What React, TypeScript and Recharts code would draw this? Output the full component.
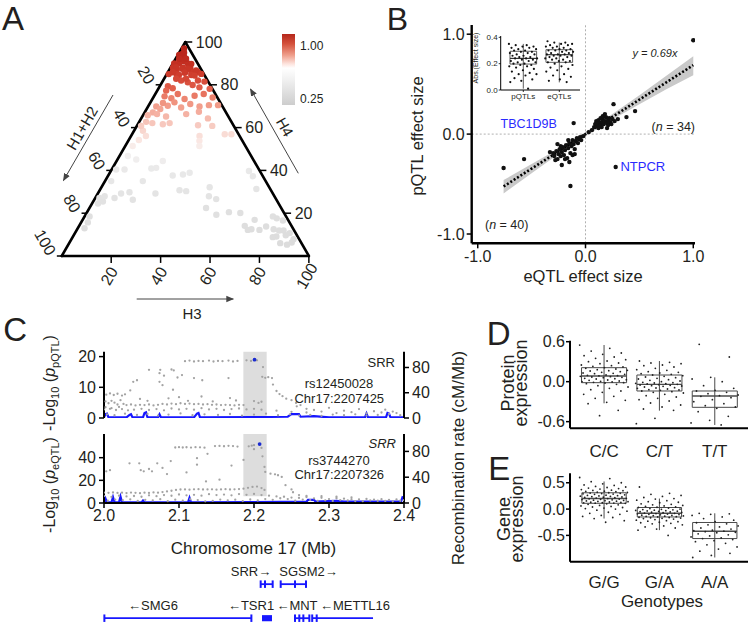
import React from 'react';
import { ComposedChart, Scatter, Line, Area, XAxis, YAxis, ReferenceLine, ReferenceArea } from 'recharts';

const FONT = 'Arial, "Liberation Sans", Helvetica, sans-serif';
const INK = '#231f20';
const BLUE = '#1717ff';
const LABEL_BLUE = '#2a2aff';

/* ================= A : ternary plot ================= */
// [H3 %, H4 %]  (H1+H2 = 100 - H3 - H4)
const ternaryPoints: [number, number][] = [
  [1, 97], [2, 95], [0.5, 94], [3, 93], [1.5, 92], [4, 91], [2.5, 90], [6, 90], [0.5, 90], [5, 88], [8, 88], [1, 88],
  [3, 87], [9.5, 86], [7, 86], [12, 86], [0.8, 85], [4, 85], [1.7, 94.5], [1.5, 92.2], [4.2, 92.2], [7.5, 89.8],
  [2.2, 88.2], [5, 87.5], [7.3, 87.5], [11, 86.7], [2, 85.9], [5.1, 84.6], [6.9, 85.6], [10.1, 84.6], [13.9, 85.1],
  [7.3, 82], [10.4, 81.2], [13, 79.9], [3.3, 79.3], [5.7, 78.4], [14.1, 82], [17, 81.5], [16.3, 78.8], [20.8, 78.1],
  [11.6, 84.3], [8.9, 82.8], [4.9, 82.8],
  [4.3, 74.6], [7.5, 73.7], [9.1, 75.7], [13, 73.4], [16.3, 74.9], [19.6, 75.7], [24, 74.1], [7.8, 70.2], [9.7, 71.8],
  [13.6, 69.4], [20.8, 69.9], [24.3, 70.5], [28, 70.5], [3.3, 69.9], [5.5, 68.7], [5.2, 71.5], [3.3, 67.1], [16.5, 71],
  [3.6, 77.3],
  [1.9, 65.8], [5.4, 66.3], [9.6, 65.2], [17.2, 66.3], [21.8, 67.4], [27, 64.3], [2.8, 62.7], [5.6, 62.1], [10.1, 61.6],
  [12.6, 62.1], [24.6, 61.1], [30.5, 60.8], [37.5, 56.9], [40.2, 56.9], [3.6, 58.5], [6, 56.1], [4.1, 54.2], [27.7, 56.1],
  [28.8, 53.8], [1.7, 60.8],
  [3.4, 46.7], [1.8, 40.4], [17.6, 41.2], [18.7, 44.4], [30, 38.1], [32.3, 38.9], [15.3, 35], [26.1, 37.6], [32.3, 30.7],
  [43.8, 32.1], [49.2, 26.6], [9.4, 29.2], [12.5, 29.8], [15.6, 26.3], [23.3, 29.2], [1.7, 27.1], [3.9, 25.5], [2.4, 24.5],
  [2.7, 13], [47.2, 22.4], [52.9, 19.3], [57.4, 20.5], [62.2, 20.1], [67, 14.1], [70.5, 12.5], [69.6, 16.9], [63.1, 31.3],
  [55.9, 39.7], [58.7, 37.3], [76.2, 18.5], [78.2, 17.6], [81.2, 16.6], [79.5, 12.5], [82, 11.9], [83.8, 11.9], [85.8, 9.7],
  [85.4, 6], [88.5, 5.3], [89.9, 6.3], [89.9, 7.8], [75.8, 13.8], [73.9, 12.2], [69.2, 12.2], [82.3, 9.1], [81, 8.8],
  [86.9, 10.7], [45.6, 27.9], [15.8, 40.9], [7.6, 45.1], [3, 51.4], [5.2, 40.4], [2.5, 35], [3.4, 27.9], [7.8, 27.1],
  [2, 18.5], [2.7, 15.7], [35.2, 30.3], [30, 51.4],
];
const ternaryTicks = [20, 40, 60, 80, 100];
const colorbarLabels = ['1.00', '0.25'];

/* ================= B : effect sizes ================= */
// [eQTL effect, pQTL effect]
const effectPairs: [number, number][] = [
  [1.0, 0.94], [-0.76, -0.34], [-0.57, -0.25], [-0.14, -0.52], [-0.11, 0.11], [0.26, 0.3], [0.28, -0.33], [0.46, 0.23],
  [0.38, 0.17], [0.3, 0.15],
  [0.09, 0.1], [0.1, 0.13], [0.11, 0.08], [0.12, 0.14], [0.13, 0.11], [0.14, 0.09], [0.15, 0.12], [0.16, 0.15], [0.17, 0.1],
  [0.18, 0.13], [0.19, 0.17], [0.2, 0.11], [0.21, 0.14], [0.22, 0.16], [0.23, 0.12], [0.24, 0.1], [0.25, 0.15], [0.18, 0.2],
  [0.12, 0.06], [0.08, 0.07], [0.15, 0.07], [0.21, 0.09], [0.27, 0.13], [0.14, 0.16], [0.06, 0.04], [0.03, 0.02],
  [0.16, 0.18], [0.1, 0.11], [0.2, 0.06],
  [-0.3, -0.19], [-0.29, -0.22], [-0.27, -0.17], [-0.26, -0.25], [-0.25, -0.2], [-0.24, -0.15], [-0.23, -0.22],
  [-0.22, -0.18], [-0.21, -0.13], [-0.2, -0.21], [-0.19, -0.16], [-0.18, -0.11], [-0.17, -0.24], [-0.16, -0.14],
  [-0.15, -0.09], [-0.14, -0.19], [-0.13, -0.12], [-0.12, -0.06], [-0.11, -0.1], [-0.1, -0.15], [-0.09, -0.07],
  [-0.08, -0.04], [-0.07, -0.09], [-0.06, -0.05], [-0.05, -0.03], [-0.22, -0.31], [-0.28, -0.26], [-0.19, -0.25],
  [-0.12, -0.21], [-0.33, -0.18], [-0.04, -0.06], [-0.02, -0.02], [-0.16, -0.06], [-0.23, -0.12], [-0.1, -0.2],
  [-0.26, -0.1], [-0.15, -0.28],
];
const fitX = [-0.76, -0.5, -0.25, 0, 0.25, 0.5, 0.75, 1.0];
const fitY = [-0.524, -0.345, -0.173, 0, 0.173, 0.345, 0.518, 0.69];
const fitLow = [-0.594, -0.392, -0.2, -0.022, 0.145, 0.3, 0.45, 0.59];
const fitHigh = [-0.46, -0.3, -0.146, 0.022, 0.2, 0.39, 0.585, 0.78];
const effectTicks = [-1, 0, 1];

const insetGroups = ['pQTLs', 'eQTLs'];
const insetPqtl = [0.35, 0.34, 0.34, 0.33, 0.33, 0.32, 0.32, 0.31, 0.31, 0.3, 0.3, 0.29, 0.29, 0.28, 0.28, 0.27, 0.27,
  0.26, 0.26, 0.25, 0.25, 0.24, 0.24, 0.24, 0.23, 0.23, 0.22, 0.22, 0.21, 0.21, 0.2, 0.2, 0.19, 0.19, 0.18, 0.18, 0.17,
  0.16, 0.15, 0.14, 0.13, 0.12, 0.12, 0.11, 0.09, 0.08, 0.07, 0.06, 0.01];
const insetEqtl = [0.37, 0.36, 0.36, 0.35, 0.35, 0.34, 0.34, 0.33, 0.33, 0.32, 0.32, 0.31, 0.31, 0.3, 0.3, 0.3, 0.29,
  0.29, 0.28, 0.28, 0.27, 0.27, 0.27, 0.26, 0.26, 0.26, 0.25, 0.25, 0.24, 0.24, 0.23, 0.23, 0.22, 0.22, 0.21, 0.21, 0.2,
  0.19, 0.18, 0.17, 0.16, 0.15, 0.14, 0.12, 0.11, 0.1, 0.08, 0.07, 0.06];
// [low whisker, Q1, median, Q3, high whisker]
const insetBox = [[0.01, 0.197, 0.24, 0.294, 0.35], [0.058, 0.21, 0.268, 0.306, 0.36]];
const insetTicks = [0, 0.2, 0.4];

/* ================= C : regional association ================= */
// [position (Mb), -log10 p]
const pqtlPoints: [number, number][] = [
  [2.108, 18.5], [2.114, 18.7], [2.12, 18.4], [2.126, 18.6], [2.132, 18.5], [2.14, 18.7], [2.146, 18.4], [2.152, 18.6],
  [2.158, 18.5], [2.166, 18.7], [2.172, 18.4], [2.178, 18.6], [2.19, 18.8], [2.196, 18.6],
  [2.06, 15.7], [2.075, 15.7], [2.09, 15.8], [2.093, 15.5], [2.074, 14.6], [2.08, 13.8], [2.098, 13.2], [2.104, 14.0],
  [2.12, 13.0], [2.039, 11.8], [2.044, 12.3], [2.074, 11.8], [2.078, 10.7], [2.131, 12.3], [2.166, 13.0], [2.212, 16.6],
  [2.204, 18.8],
  [2.211, 13.4], [2.215, 13.1], [2.219, 13.3], [2.224, 13.0], [2.2253, 10.9], [2.23, 8.8], [2.234, 7.8], [2.238, 7.1],
  [2.243, 6.3], [2.25, 5.8], [2.256, 4.9], [2.262, 4.2],
  [2.003, 7.6], [2.008, 8.0], [2.013, 7.5], [2.018, 7.9], [2.024, 7.3], [2.028, 7.7], [2.035, 9.0], [2.048, 6.2],
  [2.058, 5.6], [2.086, 6.4], [2.092, 9.2], [2.1, 6.8], [2.112, 5.6], [2.13, 7.0], [2.145, 5.4], [2.168, 6.5],
  [2.176, 5.7], [2.2, 5.5], [2.206, 4.9], [2.21, 5.3],
  [2.03, 4.2], [2.036, 4.4], [2.042, 4.1], [2.048, 4.3], [2.054, 4.2], [2.06, 4.4], [2.066, 4.1], [2.072, 4.3],
  [2.078, 4.6], [2.084, 4.4], [2.09, 4.7], [2.096, 4.5], [2.102, 4.8], [2.108, 4.6], [2.114, 4.7], [2.12, 4.5],
  [2.126, 4.6], [2.132, 4.4], [2.138, 4.5], [2.144, 4.3], [2.15, 4.4], [2.156, 4.2], [2.162, 4.3], [2.168, 4.2],
  [2.174, 4.1], [2.18, 4.3], [2.186, 4.2],
  [2.002, 5.4], [2.006, 4.8], [2.01, 5.6], [2.014, 5.0], [2.018, 4.4], [2.022, 5.8], [2.026, 4.6], [2.002, 3.5],
  [2.01, 3.2], [2.02, 3.6],
  [2.0, 2.8], [2.008, 3.0], [2.016, 2.6], [2.024, 2.9], [2.032, 2.5], [2.04, 2.7], [2.05, 3.0], [2.06, 2.6], [2.07, 2.9],
  [2.08, 2.5], [2.09, 3.1], [2.1, 2.8], [2.11, 3.0], [2.12, 2.7], [2.13, 3.2], [2.14, 2.8], [2.15, 3.0], [2.16, 2.6],
  [2.17, 2.9], [2.18, 3.1], [2.19, 2.8], [2.2, 3.0], [2.21, 2.7], [2.23, 2.4], [2.25, 2.0], [2.27, 1.8], [2.29, 2.1],
  [2.31, 1.6], [2.33, 1.9], [2.35, 1.5], [2.37, 1.8], [2.39, 1.6],
  [2.004, 1.2], [2.014, 0.9], [2.028, 1.4], [2.044, 1.0], [2.058, 1.3], [2.072, 0.8], [2.086, 1.1], [2.102, 1.5],
  [2.118, 0.9], [2.134, 1.2], [2.152, 1.0], [2.168, 1.3], [2.184, 0.8], [2.2, 1.1], [2.216, 1.4], [2.232, 0.9],
  [2.248, 1.2], [2.26, 0.8], [2.275, 1.0], [2.29, 0.7], [2.305, 1.1], [2.32, 0.9], [2.335, 1.2], [2.35, 0.8],
  [2.365, 1.0], [2.38, 1.3], [2.395, 0.9],
  [2.257, 3.8], [2.27, 3.0], [2.28, 2.6], [2.3, 3.3], [2.32, 2.4], [2.34, 2.9], [2.36, 2.2], [2.375, 2.7], [2.385, 2.1],
];
const pqtlLead: [number, number] = [2.2007, 19.0];

const eqtlPoints: [number, number][] = [
  [2.095, 49.0], [2.1, 49.3], [2.105, 49.0], [2.11, 49.2], [2.116, 48.9], [2.122, 49.3], [2.128, 49.1], [2.134, 48.8],
  [2.148, 50.2], [2.154, 50.4], [2.16, 50.1], [2.166, 50.5], [2.172, 50.2], [2.178, 49.8], [2.193, 50.0], [2.197, 50.6],
  [2.2, 51.0], [2.2, 47.5], [2.21, 48.6],
  [2.003, 28], [2.008, 29], [2.034, 35], [2.047, 35], [2.049, 29], [2.053, 28], [2.06, 30], [2.064, 28], [2.071, 35],
  [2.078, 31], [2.089, 37], [2.084, 25.5], [2.124, 39.6], [2.124, 33.8], [2.138, 43.4], [2.136, 19], [2.154, 20.6],
  [2.17, 33], [2.186, 38], [2.11, 27],
  [2.2113, 41.2], [2.214, 31.8], [2.215, 27.4], [2.222, 25.9], [2.228, 25.3], [2.237, 23], [2.242, 15.7], [2.232, 24.5],
  [2.0, 9.2], [2.006, 9.0], [2.012, 9.3], [2.018, 8.9], [2.024, 9.1], [2.03, 8.8], [2.036, 9.2], [2.042, 9.0],
  [2.048, 8.7], [2.054, 9.1], [2.06, 8.9], [2.066, 9.3], [2.072, 9.1], [2.078, 9.6], [2.084, 10.2], [2.09, 10.8],
  [2.096, 11.5], [2.102, 11.9], [2.108, 12.0], [2.114, 11.8], [2.12, 12.1], [2.126, 12.2], [2.132, 11.9], [2.138, 12.0],
  [2.144, 12.1], [2.15, 11.8], [2.156, 12.0], [2.162, 12.2], [2.168, 11.9], [2.174, 12.1], [2.18, 12.3], [2.186, 12.6],
  [2.192, 13.4], [2.198, 14.2], [2.204, 14.5], [2.21, 13.2], [2.214, 11.5],
  [2.0, 6.0], [2.01, 5.4], [2.02, 6.5], [2.03, 5.8], [2.04, 6.2], [2.05, 5.5], [2.06, 6.8], [2.07, 6.0], [2.08, 7.0],
  [2.09, 6.4], [2.1, 7.5], [2.11, 6.8], [2.12, 7.2], [2.13, 6.5], [2.14, 7.8], [2.15, 7.0], [2.16, 7.4], [2.17, 6.8],
  [2.18, 7.9], [2.19, 7.2], [2.2, 8.0], [2.21, 7.0], [2.22, 6.5], [2.23, 5.8], [2.24, 5.5], [2.25, 4.8], [2.26, 4.5],
  [2.27, 5.2], [2.28, 4.0], [2.29, 4.6], [2.3, 3.5], [2.31, 4.2], [2.32, 3.8], [2.33, 3.4], [2.34, 3.2], [2.35, 3.6],
  [2.36, 3.0], [2.37, 3.3], [2.38, 2.8], [2.39, 3.1], [2.4, 2.5],
  [2.005, 2.0], [2.015, 3.0], [2.025, 2.5], [2.035, 3.2], [2.045, 1.8], [2.055, 2.8], [2.065, 2.3], [2.075, 3.4],
  [2.085, 1.6], [2.095, 2.9], [2.105, 2.1], [2.115, 3.3], [2.125, 2.6], [2.135, 1.5], [2.145, 1.9], [2.155, 3.0],
  [2.165, 2.4], [2.175, 2.9], [2.185, 1.7], [2.195, 3.1], [2.205, 2.2], [2.215, 3.5], [2.225, 2.8], [2.235, 4.2],
  [2.245, 3.5], [2.255, 2.0], [2.265, 3.0], [2.275, 2.6], [2.285, 1.9], [2.295, 2.4], [2.305, 1.8], [2.315, 2.6],
  [2.325, 2.2], [2.335, 1.7], [2.345, 1.6], [2.355, 2.3], [2.365, 2.0], [2.375, 1.8], [2.385, 1.5], [2.395, 2.0],
  [2.252, 9.5], [2.26, 7.0], [2.27, 6.2], [2.29, 6.0], [2.31, 5.5], [2.33, 5.0], [2.25, 12.0],
];
const eqtlLead: [number, number] = [2.2075, 52.0];

// recombination rate (cM/Mb)
const recombTopPos = [2.0, 2.002, 2.004, 2.006, 2.03, 2.034, 2.036, 2.038, 2.052, 2.054, 2.056, 2.058, 2.072, 2.074,
  2.076, 2.12, 2.124, 2.126, 2.128, 2.2, 2.245, 2.25, 2.252, 2.26, 2.262, 2.28, 2.3, 2.348, 2.35, 2.352, 2.376, 2.378,
  2.38, 2.382, 2.4];
const recombTopRate = [1, 6, 7, 1, 1, 5, 6, 1, 1, 8, 9, 1, 1, 6, 1, 1, 7, 8, 1, 1.5, 2, 6, 6, 6, 2, 3, 1, 1, 7, 1, 1, 8, 7,
  1, 1];
const recombBotPos = [2.0, 2.002, 2.004, 2.01, 2.012, 2.014, 2.02, 2.022, 2.024, 2.05, 2.052, 2.054, 2.112, 2.114, 2.116,
  2.2, 2.27, 2.272, 2.28, 2.282, 2.3, 2.31, 2.32, 2.396, 2.398, 2.4];
const recombBotRate = [1, 7, 1, 1, 9, 1, 1, 10, 1, 1, 4, 1, 1, 8, 1, 1.5, 2, 5, 5, 2, 3, 3.5, 2, 2, 9, 8];
const chromTicks = [2.0, 2.1, 2.2, 2.3, 2.4];

// genes
const geneNames = ['SRR', 'SGSM2', 'SMG6', 'TSR1', 'MNT', 'METTL16'];
const geneStrand = ['+', '+', '-', '-', '-', '-'];
const geneStart = [2.2085, 2.2347, 2.0, 2.2107, 2.2533, 2.2773];
const geneEnd = [2.2253, 2.2707, 2.197, 2.224, 2.2747, 2.3587];
const geneRow = [1, 1, 0, 0, 0, 0];
const geneLabelAt = [2.196, 2.2727, 2.0653, 2.196, 2.2573, 2.3347];
const geneExons = [[2.2089, 2.2147, 2.2249], [2.2356, 2.2547, 2.2693], [2.0005, 2.1965], [], [2.2547, 2.2604, 2.2658, 2.2738],
  [2.2776, 2.2836]];

/* ================= D / E : genotype boxes ================= */
const proteinGenotypes = ['C/C', 'C/T', 'T/T'];
const proteinCC = [0.55, 0.5, 0.46, 0.43, 0.41, 0.39, 0.37, 0.35, 0.33, 0.31, 0.3, 0.28, 0.27, 0.25, 0.24, 0.23, 0.22,
  0.21, 0.2, 0.19, 0.18, 0.17, 0.165, 0.16, 0.15, 0.14, 0.13, 0.125, 0.12, 0.11, 0.1, 0.095, 0.09, 0.088,
  0.08, 0.075, 0.07, 0.065, 0.06, 0.05, 0.045, 0.04, 0.03, 0.025, 0.02, 0.01, 0.005, 0.0, -0.005, -0.01, -0.015,
  -0.02, -0.03, -0.04, -0.06, -0.08, -0.1, -0.12, -0.14, -0.16, -0.19, -0.22, -0.25, -0.28, -0.31, -0.33, -0.43, -0.51];
const proteinCT = [0.31, 0.29, 0.28, 0.27, 0.25, 0.24, 0.22, 0.2, 0.18, 0.17, 0.15, 0.14, 0.13, 0.12, 0.11, 0.1,
  0.09, 0.08, 0.07, 0.06, 0.05, 0.04, 0.03, 0.02, 0.01, 0.0, -0.01, -0.015, -0.02, -0.025, -0.03, -0.035,
  -0.04, -0.045, -0.05, -0.055, -0.06, -0.065, -0.07, -0.08, -0.09, -0.095, -0.1, -0.11, -0.12, -0.125, -0.13, -0.14,
  -0.15, -0.16, -0.17, -0.19, -0.21, -0.23, -0.25, -0.27, -0.29, -0.32, -0.35, -0.38, -0.41, -0.43, -0.55, -0.63];
const proteinTT = [0.56, 0.37, 0.065, 0.04, 0.0, -0.06, -0.1, -0.13, -0.14, -0.16, -0.18, -0.2, -0.21, -0.22, -0.24,
  -0.27, -0.3, -0.33, -0.36, -0.38, -0.4, -0.45, -0.52, -0.58, -0.62, -0.65];
const proteinBox = [[-0.325, -0.015, 0.085, 0.21, 0.55], [-0.435, -0.14, -0.04, 0.1, 0.31], [-0.65, -0.385, -0.215, -0.14, 0.065]];
const proteinTicks = [-0.6, 0, 0.6];

const geneGenotypes = ['G/G', 'G/A', 'A/A'];
const geneGG = [0.6, 0.58, 0.52, 0.5, 0.48, 0.46, 0.45, 0.43, 0.42, 0.41, 0.4, 0.39, 0.38, 0.37, 0.36, 0.355, 0.35, 0.34,
  0.335, 0.33, 0.32, 0.315, 0.31, 0.305, 0.3, 0.295, 0.29, 0.285, 0.28, 0.27, 0.265, 0.26, 0.255, 0.25, 0.245, 0.24,
  0.235, 0.23, 0.225, 0.22, 0.215, 0.21, 0.205, 0.2, 0.195, 0.19, 0.185, 0.18, 0.175, 0.17, 0.165, 0.16, 0.155, 0.15,
  0.145, 0.14, 0.135, 0.13, 0.125, 0.12, 0.118, 0.115, 0.112, 0.11, 0.1, 0.09, 0.08, 0.07, 0.06, 0.05, 0.04, 0.03,
  0.02, 0.01, 0.0, -0.02, -0.04, -0.06, -0.08, -0.1, -0.12, -0.14, -0.16, -0.18, -0.22, -0.25];
const geneGA = [0.42, 0.3, 0.28, 0.26, 0.24, 0.22, 0.2, 0.19, 0.17, 0.16, 0.14, 0.13, 0.12, 0.1, 0.09, 0.08, 0.07, 0.06,
  0.05, 0.04, 0.035, 0.03, 0.02, 0.01, 0.0, -0.005, -0.01, -0.015, -0.02, -0.025, -0.03, -0.035, -0.04, -0.045, -0.05,
  -0.055, -0.06, -0.065, -0.07, -0.075, -0.08, -0.085, -0.09, -0.095, -0.1, -0.105, -0.11, -0.115, -0.12, -0.125,
  -0.13, -0.135, -0.14, -0.145, -0.15, -0.155, -0.16, -0.165, -0.17, -0.175, -0.18, -0.19, -0.2, -0.21, -0.22, -0.23,
  -0.24, -0.25, -0.26, -0.27, -0.28, -0.3, -0.32, -0.34, -0.36, -0.38, -0.4, -0.5];
const geneAA = [-0.08, -0.09, -0.1, -0.12, -0.15, -0.18, -0.21, -0.24, -0.26, -0.28, -0.3, -0.32, -0.34, -0.36, -0.38,
  -0.4, -0.41, -0.42, -0.43, -0.44, -0.45, -0.47, -0.49, -0.51, -0.53, -0.55, -0.56, -0.58, -0.6, -0.62, -0.65, -0.68,
  -0.72, -0.76, -0.8, -0.84, -0.88, -0.92];
const geneBox = [[-0.18, 0.11, 0.2, 0.31, 0.525], [-0.4, -0.15, -0.08, 0.03, 0.2], [-0.92, -0.56, -0.42, -0.255, -0.08]];
const geneTicks = [-0.5, 0, 0.5];

/* ================= helpers ================= */
const SQ = Math.sqrt(3) / 2;
const toXY = (h3: number, h4: number) => ({ x: h3 + h4 / 2, y: h4 * SQ });
const jitter = (i: number) => ((i * 0.6180339887) % 1) - 0.5;

const colorStops: [number, number[]][] = [
  [0, [218, 218, 218]], [0.2, [224, 224, 224]], [0.4, [233, 233, 233]], [0.47, [242, 240, 240]], [0.53, [250, 234, 230]],
  [0.59, [248, 212, 204]], [0.66, [245, 180, 166]], [0.72, [240, 146, 126]], [0.78, [226, 96, 76]],
  [0.85, [206, 60, 44]], [0.92, [190, 42, 30]], [1, [178, 30, 22]],
];
function h4Color(t: number) {
  for (let i = 1; i < colorStops.length; i++) {
    const [t1, c1] = colorStops[i];
    const [t0, c0] = colorStops[i - 1];
    if (t <= t1) {
      const f = (t - t0) / (t1 - t0);
      const c = c0.map((v, k) => Math.round(v + (c1[k] - v) * f));
      return `rgb(${c[0]},${c[1]},${c[2]})`;
    }
  }
  return 'rgb(178,30,22)';
}

const ternaryData = ternaryPoints.map(([h3, h4]) => ({ ...toXY(h3, h4), color: h4Color(h4 / 100) }));
const bottomTickPts = ternaryTicks.map((k) => ({ ...toXY(k, 0), label: String(k) }));
const rightTickPts = ternaryTicks.map((k) => ({ ...toXY(100 - k, k), label: String(k) }));
const leftTickPts = ternaryTicks.map((k) => ({ ...toXY(0, 100 - k), label: String(k) }));

const effectData = effectPairs.map(([x, y]) => ({ x, y }));
const fitRows = fitX.map((x, i) => ({ x, fit: fitY[i], band: [fitLow[i], fitHigh[i]] }));

const groupPoints = (groups: number[][], spread: number) =>
  groups.flatMap((vals, g) => vals.map((v, i) => ({ x: g + 1 + jitter(i + g * 5) * spread, y: v })));

const insetData = groupPoints([insetPqtl, insetEqtl], 0.8);
const proteinData = groupPoints([proteinCC, proteinCT, proteinTT], 0.88);
const geneData = groupPoints([geneGG, geneGA, geneAA], 0.88);

const pqtlData = pqtlPoints.map(([x, y]) => ({ x, y }));
const eqtlData = eqtlPoints.map(([x, y]) => ({ x, y }));
const recombTop = recombTopPos.map((x, i) => ({ x, r: recombTopRate[i] }));
const recombBot = recombBotPos.map((x, i) => ({ x, r: recombBotRate[i] }));
const geneLabelData = geneNames.map((n, i) => ({
  x: geneLabelAt[i], y: geneRow[i], label: geneStrand[i] === '+' ? `${n}\u2192` : `\u2190${n}`,
}));

function boxElements(stats: number[][], half: number, prefix: string, stroke: string, sw: number) {
  const els: any[] = [];
  stats.forEach(([lo, q1, med, q3, hi], i) => {
    const c = i + 1;
    els.push(<ReferenceLine key={`${prefix}w${i}`} segment={[{ x: c, y: lo }, { x: c, y: hi }]} stroke={stroke} strokeWidth={sw} ifOverflow="visible" />);
    els.push(<ReferenceArea key={`${prefix}b${i}`} x1={c - half} x2={c + half} y1={q1} y2={q3} fill="none" fillOpacity={0} stroke={stroke} strokeWidth={sw} ifOverflow="visible" />);
    els.push(<ReferenceLine key={`${prefix}m${i}`} segment={[{ x: c - half, y: med }, { x: c + half, y: med }]} stroke={stroke} strokeWidth={sw + 0.4} ifOverflow="visible" />);
  });
  return els;
}

const axisLine = { stroke: '#000', strokeWidth: 2 };
const tickLine = { stroke: '#000', strokeWidth: 1.5 };
const tickStyle = (fs: number) => ({ fontSize: fs, fill: INK, fontFamily: FONT });

const dot = (r: number, fill: string) => (p: any) => <circle cx={p.cx} cy={p.cy} r={r} fill={fill} />;

export default function App() {
  const TL = 2.8;
  return (
    <div style={{ position: 'absolute', left: 0, top: 0, width: 750, height: 625, background: '#fff', overflow: 'hidden', fontFamily: FONT }}>
      {/* ---------- A ---------- */}
      <div style={{ position: 'absolute', left: 0, top: 0 }}>
        <ComposedChart width={383} height={310} margin={{ top: 0, right: 0, bottom: 0, left: 0 }}>
          <XAxis type="number" dataKey="x" domain={[-25, 130]} hide allowDataOverflow />
          <YAxis type="number" dataKey="y" domain={[-21.85, 103.6]} hide allowDataOverflow />
          <Scatter data={ternaryData} isAnimationActive={false}
            shape={(p: any) => <circle cx={p.cx} cy={p.cy} r={3.2} fill={p.payload.color} />} />
          <ReferenceLine segment={[toXY(0, 0), toXY(100, 0)]} stroke="#000" strokeWidth={2.6} strokeLinecap="round" />
          <ReferenceLine segment={[toXY(100, 0), toXY(0, 100)]} stroke="#000" strokeWidth={2.6} strokeLinecap="round" />
          <ReferenceLine segment={[toXY(0, 100), toXY(0, 0)]} stroke="#000" strokeWidth={2.6} strokeLinecap="round" />
          {bottomTickPts.map((p, i) => (
            <ReferenceLine key={`bt${i}`} segment={[{ x: p.x, y: p.y }, { x: p.x, y: p.y - TL }]} stroke="#000" strokeWidth={1.5} />
          ))}
          {rightTickPts.map((p, i) => (
            <ReferenceLine key={`rt${i}`} segment={[{ x: p.x, y: p.y }, { x: p.x + TL, y: p.y }]} stroke="#000" strokeWidth={1.5} />
          ))}
          {leftTickPts.map((p, i) => (
            <ReferenceLine key={`lt${i}`} segment={[{ x: p.x, y: p.y }, { x: p.x - 2, y: p.y }]} stroke="#000" strokeWidth={1.5} />
          ))}
          <Scatter data={bottomTickPts} isAnimationActive={false}
            shape={(p: any) => (
              <text transform={`translate(${p.cx - 2},${p.cy + 20}) rotate(-60)`} textAnchor="middle" dominantBaseline="central"
                fontSize={16} fill={INK} fontFamily={FONT}>{p.payload.label}</text>
            )} />
          <Scatter data={rightTickPts} isAnimationActive={false}
            shape={(p: any) => (
              <text x={p.cx + 10.5} y={p.cy} dominantBaseline="central" fontSize={16} fill={INK} fontFamily={FONT}>{p.payload.label}</text>
            )} />
          <Scatter data={leftTickPts} isAnimationActive={false}
            shape={(p: any) => (
              <text transform={`translate(${p.cx - 10},${p.cy - 2}) rotate(60)`} textAnchor="end" dominantBaseline="central"
                fontSize={16} fill={INK} fontFamily={FONT}>{p.payload.label}</text>
            )} />
        </ComposedChart>
      </div>
      <div style={{
        position: 'absolute', left: 282, top: 34, width: 13, height: 71,
        background: 'linear-gradient(to bottom, #b5271b 0%, #d4523d 14%, #ef9f8c 30%, #fde3dd 42%, #ffffff 48%, #f0f0f0 65%, #cdcdcd 100%)',
      }} />

      {/* ---------- B ---------- */}
      <div style={{ position: 'absolute', left: 380, top: 0 }}>
        <ComposedChart width={330} height={290} data={fitRows} margin={{ top: 25, right: 15, bottom: 16.7, left: 41.7 }}>
          <XAxis type="number" dataKey="x" domain={[-1.056, 1.016]} ticks={effectTicks} allowDataOverflow height={30}
            tickFormatter={(v: number) => v.toFixed(1)} axisLine={{ stroke: '#000', strokeWidth: 2.4 }} tickLine={tickLine}
            tickSize={5} tickMargin={2} tick={tickStyle(16)} interval={0} />
          <YAxis type="number" dataKey="y" domain={[-1.093, 1.092]} ticks={effectTicks} allowDataOverflow width={50}
            tickFormatter={(v: number) => v.toFixed(1)} axisLine={{ stroke: '#000', strokeWidth: 2.4 }} tickLine={tickLine}
            tickSize={5} tickMargin={2} tick={tickStyle(16)} interval={0} />
          <ReferenceLine x={0} stroke="#b0b0b0" strokeDasharray="2 2" strokeWidth={1} />
          <ReferenceLine y={0} stroke="#b0b0b0" strokeDasharray="2 2" strokeWidth={1} />
          <Area dataKey="band" stroke="none" fill="#c9c9c9" fillOpacity={1} isAnimationActive={false} />
          <Line dataKey="fit" stroke="#000" strokeWidth={2.6} strokeDasharray="2 2" dot={false} isAnimationActive={false} />
          <Scatter data={effectData} shape={dot(2.2, '#111')} isAnimationActive={false} />
        </ComposedChart>
      </div>
      {/* inset */}
      <div style={{ position: 'absolute', left: 465, top: 28 }}>
        <ComposedChart width={120} height={80} margin={{ top: 8, right: 5, bottom: 3, left: 5.7 }}>
          <XAxis type="number" dataKey="x" domain={[0.372, 2.575]} ticks={[1, 2]} allowDataOverflow height={15}
            tickFormatter={(v: number) => insetGroups[v - 1]} axisLine={{ stroke: '#000', strokeWidth: 1 }}
            tickLine={{ stroke: '#000', strokeWidth: 0.8 }} tickSize={2} tickMargin={1} tick={tickStyle(8)} interval={0} />
          <YAxis type="number" dataKey="y" domain={[0, 0.41]} ticks={insetTicks} allowDataOverflow width={30}
            tickFormatter={(v: number) => v.toFixed(1)} axisLine={{ stroke: '#000', strokeWidth: 1 }}
            tickLine={{ stroke: '#000', strokeWidth: 0.8 }} tickSize={2} tickMargin={1} tick={tickStyle(8)} interval={0} />
          {boxElements(insetBox, 0.37, 'i', '#333', 0.8)}
          <Scatter data={insetData} shape={dot(1.1, '#111')} isAnimationActive={false} />
        </ComposedChart>
      </div>

      {/* ---------- C top ---------- */}
      <div style={{ position: 'absolute', left: 0, top: 340 }}>
        <ComposedChart width={450} height={90} margin={{ top: 11.7, right: 16, bottom: 12, left: 60 }}>
          <XAxis type="number" dataKey="x" domain={[2, 2.4]} hide allowDataOverflow />
          <YAxis yAxisId="p" type="number" dataKey="y" domain={[0, 21.6]} ticks={[0, 10, 20]} width={44} allowDataOverflow
            axisLine={axisLine} tickLine={tickLine} tickSize={5} tickMargin={3} tick={tickStyle(16)} interval={0} />
          <YAxis yAxisId="r" orientation="right" type="number" dataKey="r" domain={[0, 105]} ticks={[0, 40, 80]} width={30}
            allowDataOverflow axisLine={axisLine} tickLine={tickLine} tickSize={5} tickMargin={3} tick={tickStyle(16)} interval={0} />
          <ReferenceArea yAxisId="p" x1={2.1858} x2={2.2169} y1={0} y2={21.6} fill="#dddddd" fillOpacity={1} stroke="none" />
          <Scatter yAxisId="p" data={pqtlData} shape={dot(1.15, '#a3a3a3')} isAnimationActive={false} />
          <Line yAxisId="r" data={recombTop} dataKey="r" stroke={BLUE} strokeWidth={2.2} dot={false} isAnimationActive={false} />
          <Scatter yAxisId="p" data={[{ x: pqtlLead[0], y: pqtlLead[1] }]} shape={dot(1.9, '#1a2bd0')} isAnimationActive={false} />
        </ComposedChart>
      </div>
      {/* ---------- C bottom ---------- */}
      <div style={{ position: 'absolute', left: 0, top: 425 }}>
        <ComposedChart width={450} height={105} margin={{ top: 9, right: 16, bottom: 3, left: 60 }}>
          <XAxis type="number" dataKey="x" domain={[2, 2.4]} ticks={chromTicks} allowDataOverflow height={24}
            tickFormatter={(v: number) => v.toFixed(1)} axisLine={axisLine} tickLine={tickLine} tickSize={5} tickMargin={2}
            tick={tickStyle(16)} interval={0} />
          <YAxis yAxisId="p" type="number" dataKey="y" domain={[0, 60.9]} ticks={[0, 20, 40]} width={44} allowDataOverflow
            axisLine={axisLine} tickLine={tickLine} tickSize={5} tickMargin={3} tick={tickStyle(16)} interval={0} />
          <YAxis yAxisId="r" orientation="right" type="number" dataKey="r" domain={[0, 107]} ticks={[0, 40, 80]} width={30}
            allowDataOverflow axisLine={axisLine} tickLine={tickLine} tickSize={5} tickMargin={3} tick={tickStyle(16)} interval={0} />
          <ReferenceArea yAxisId="p" x1={2.1858} x2={2.2169} y1={6} y2={60.9} fill="#dddddd" fillOpacity={1} stroke="none" />
          <Scatter yAxisId="p" data={eqtlData} shape={dot(1.15, '#a3a3a3')} isAnimationActive={false} />
          <Line yAxisId="r" data={recombBot} dataKey="r" stroke={BLUE} strokeWidth={2.2} dot={false} isAnimationActive={false} />
          <Scatter yAxisId="p" data={[{ x: eqtlLead[0], y: eqtlLead[1] }]} shape={dot(1.9, '#1a2bd0')} isAnimationActive={false} />
        </ComposedChart>
      </div>
      {/* ---------- C genes ---------- */}
      <div style={{ position: 'absolute', left: 0, top: 560 }}>
        <ComposedChart width={450} height={65} margin={{ top: 0, right: 46, bottom: 0, left: 104 }}>
          <XAxis type="number" dataKey="x" domain={[2, 2.4]} hide allowDataOverflow />
          <YAxis type="number" dataKey="y" domain={[-0.2, 1.71]} hide allowDataOverflow />
          {geneNames.map((n, i) => (
            <ReferenceLine key={`g${i}`} segment={[{ x: geneStart[i], y: geneRow[i] }, { x: geneEnd[i], y: geneRow[i] }]}
              stroke={BLUE} strokeWidth={1.8} ifOverflow="visible" />
          ))}
          {geneExons.flatMap((ex, i) => ex.map((e, j) => (
            <ReferenceLine key={`e${i}-${j}`} segment={[{ x: e, y: geneRow[i] - 0.11 }, { x: e, y: geneRow[i] + 0.11 }]}
              stroke={BLUE} strokeWidth={2} ifOverflow="visible" />
          )))}
          <ReferenceArea x1={geneStart[3]} x2={geneEnd[3]} y1={geneRow[3] - 0.09} y2={geneRow[3] + 0.09} fill={BLUE}
            fillOpacity={1} stroke="none" ifOverflow="visible" />
          <Scatter data={geneLabelData} isAnimationActive={false}
            shape={(p: any) => (
              <text x={p.cx} y={p.cy - 8} textAnchor="middle" fontSize={13} fill={INK} fontFamily={FONT}>{p.payload.label}</text>
            )} />
        </ComposedChart>
      </div>

      {/* ---------- D ---------- */}
      <div style={{ position: 'absolute', left: 520, top: 330 }}>
        <ComposedChart width={230} height={132} margin={{ top: 10.7, right: 2, bottom: 3.7, left: 5 }}>
          <XAxis type="number" dataKey="x" domain={[0.385, 3.6]} ticks={[1, 2, 3]} allowDataOverflow height={30}
            tickFormatter={(v: number) => proteinGenotypes[v - 1]} axisLine={axisLine} tickLine={false} tickMargin={11}
            tick={tickStyle(17)} interval={0} />
          <YAxis type="number" dataKey="y" domain={[-0.7, 0.615]} ticks={proteinTicks} allowDataOverflow width={45}
            tickFormatter={(v: number) => v.toFixed(1)} axisLine={axisLine} tickLine={tickLine} tickSize={4} tickMargin={1}
            tick={tickStyle(16)} interval={0} />
          {boxElements(proteinBox, 0.407, 'd', '#4a4a4a', 1)}
          <Scatter data={proteinData} shape={dot(0.9, '#222')} isAnimationActive={false} />
        </ComposedChart>
      </div>
      {/* ---------- E ---------- */}
      <div style={{ position: 'absolute', left: 520, top: 465 }}>
        <ComposedChart width={230} height={130} margin={{ top: 8.3, right: 2, bottom: 3.3, left: 5 }}>
          <XAxis type="number" dataKey="x" domain={[0.385, 3.6]} ticks={[1, 2, 3]} allowDataOverflow height={30}
            tickFormatter={(v: number) => geneGenotypes[v - 1]} axisLine={axisLine} tickLine={false} tickMargin={8}
            tick={tickStyle(17)} interval={0} />
          <YAxis type="number" dataKey="y" domain={[-1.0, 0.68]} ticks={geneTicks} allowDataOverflow width={45}
            tickFormatter={(v: number) => v.toFixed(1)} axisLine={axisLine} tickLine={tickLine} tickSize={4} tickMargin={1}
            tick={tickStyle(16)} interval={0} />
          {boxElements(geneBox, 0.4, 'e', '#4a4a4a', 1)}
          <Scatter data={geneData} shape={dot(0.9, '#222')} isAnimationActive={false} />
        </ComposedChart>
      </div>

      {/* ---------- annotations ---------- */}
      <svg width={750} height={625} style={{ position: 'absolute', left: 0, top: 0, pointerEvents: 'none' }} fontFamily={FONT}>
        <defs>
          <marker id="arr" markerWidth="8" markerHeight="8" refX="7" refY="4" orient="auto" markerUnits="userSpaceOnUse">
            <path d="M0,0.8 L8,4 L0,7.2 Z" fill="#444" />
          </marker>
        </defs>
        {/* panel letters */}
        <text x={2} y={30} fontSize={33} fill={INK}>A</text>
        <text x={386.7} y={29.5} fontSize={32} fill={INK}>B</text>
        <text x={3.3} y={341} fontSize={33} fill={INK}>C</text>
        <text x={486.7} y={345} fontSize={33} fill={INK}>D</text>
        <text x={488.3} y={480} fontSize={33} fill={INK}>E</text>

        {/* A */}
        <text x={300} y={45.7} fontSize={12} fill={INK} dominantBaseline="central">{colorbarLabels[0]}</text>
        <text x={300} y={99} fontSize={12} fill={INK} dominantBaseline="central">{colorbarLabels[1]}</text>
        <line x1={113} y1={95} x2={63.5} y2={180.5} stroke="#444" strokeWidth={1} markerEnd="url(#arr)" />
        <line x1={298.3} y1={173.3} x2={250.5} y2={89} stroke="#444" strokeWidth={1} markerEnd="url(#arr)" />
        <line x1={136.7} y1={299} x2={233.3} y2={299} stroke="#444" strokeWidth={1} markerEnd="url(#arr)" />
        <text transform="translate(82,128) rotate(-60)" textAnchor="middle" dominantBaseline="central" fontSize={15} fill={INK}>H1+H2</text>
        <text transform="translate(285,127) rotate(60)" textAnchor="middle" dominantBaseline="central" fontSize={15} fill={INK}>H4</text>
        <text x={192} y={313} textAnchor="middle" dominantBaseline="central" fontSize={15} fill={INK}>H3</text>

        {/* B */}
        <text transform="translate(423,136) rotate(-90)" textAnchor="middle" fontSize={16.5} fill={INK}>pQTL effect size</text>
        <text x={583} y={281.7} textAnchor="middle" fontSize={16.5} fill={INK}>eQTL effect size</text>
        <text x={655} y={57} textAnchor="middle" fontSize={11} fontStyle="italic" fill={INK}>y = 0.69x</text>
        <text x={528.7} y={127.5} textAnchor="middle" fontSize={12.5} fill={LABEL_BLUE}>TBC1D9B</text>
        <text x={642.8} y={171.3} textAnchor="middle" fontSize={13} fill={LABEL_BLUE}>NTPCR</text>
        <text x={673.3} y={130.5} textAnchor="middle" fontSize={12.5} fill={INK}>(<tspan fontStyle="italic">n</tspan> = 34)</text>
        <text x={506.7} y={228.5} textAnchor="middle" fontSize={12.5} fill={INK}>(<tspan fontStyle="italic">n</tspan> = 40)</text>
        <text transform="translate(478,58) rotate(-90)" textAnchor="middle" fontSize={7} fill={INK}>Abs.(Effect size)</text>

        {/* C */}
        <text transform="translate(55,383) rotate(-90)" textAnchor="middle" fontSize={16} fill={INK}>
          -Log<tspan fontSize={11} dy={4}>10</tspan><tspan dy={-4}> (</tspan><tspan fontStyle="italic">p</tspan>
          <tspan fontSize={11} dy={4}>pQTL</tspan><tspan dy={-4}>)</tspan>
        </text>
        <text transform="translate(55,485) rotate(-90)" textAnchor="middle" fontSize={16} fill={INK}>
          -Log<tspan fontSize={11} dy={4}>10</tspan><tspan dy={-4}> (</tspan><tspan fontStyle="italic">p</tspan>
          <tspan fontSize={11} dy={4}>eQTL</tspan><tspan dy={-4}>)</tspan>
        </text>
        <text transform="translate(464,458) rotate(-90)" textAnchor="middle" fontSize={17} fill={INK}>Recombination rate (cM/Mb)</text>
        <text x={395} y={366.7} textAnchor="end" fontSize={13} fill={INK}>SRR</text>
        <text x={339} y={388.3} textAnchor="middle" fontSize={13} fill={INK}>rs12450028</text>
        <text x={339.3} y={403.3} textAnchor="middle" fontSize={13} fill={INK}>Chr17:2207425</text>
        <text x={396} y={448.3} textAnchor="end" fontSize={13} fontStyle="italic" fill={INK}>SRR</text>
        <text x={339} y={465} textAnchor="middle" fontSize={13} fill={INK}>rs3744270</text>
        <text x={339.3} y={479.3} textAnchor="middle" fontSize={13} fill={INK}>Chr17:2207326</text>
        <text x={253.5} y={554} textAnchor="middle" fontSize={17} fill={INK}>Chromosome 17 (Mb)</text>

        {/* D / E */}
        <text transform="translate(514,383) rotate(-90)" textAnchor="middle" fontSize={18} fill={INK}>Protein</text>
        <text transform="translate(526.5,383) rotate(-90)" textAnchor="middle" fontSize={18} fill={INK}>expression</text>
        <text transform="translate(509.5,519) rotate(-90)" textAnchor="middle" fontSize={18} fill={INK}>Gene</text>
        <text transform="translate(522.5,519) rotate(-90)" textAnchor="middle" fontSize={18} fill={INK}>expression</text>
        <text x={662} y={607} textAnchor="middle" fontSize={17} fill={INK}>Genotypes</text>
      </svg>
    </div>
  );
}
